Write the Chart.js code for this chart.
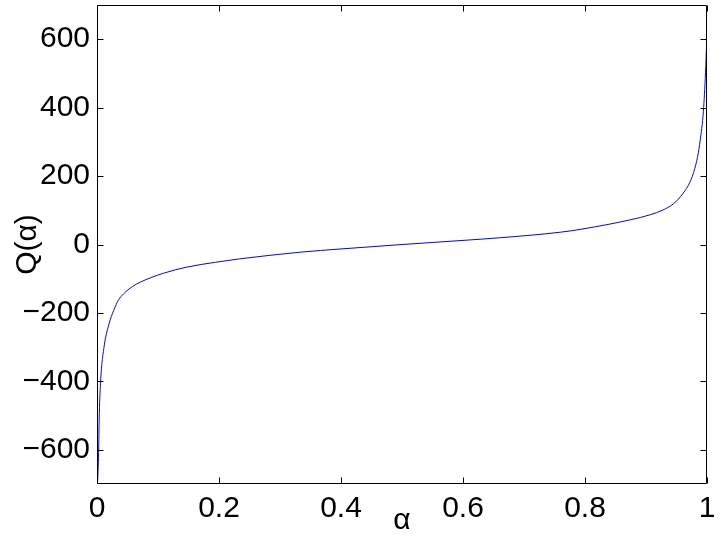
<!DOCTYPE html>
<html>
<head>
<meta charset="utf-8">
<script src="https://cdn.jsdelivr.net/npm/chart.js@4"></script>
<style>
  html, body { margin: 0; padding: 0; background: #fff; }
  #wrap { width: 721px; height: 545px; }
</style>
</head>
<body>
<div id="wrap"><canvas id="grafik" width="721" height="545"></canvas></div>
<script>
// nilai
const alpha = [0, 0.0011, 0.0028, 0.0038, 0.006, 0.0115, 0.0197, 0.0273, 0.035, 0.0437,
  0.058, 0.071, 0.109, 0.1475, 0.194, 0.234, 0.333, 0.4, 0.5, 0.6, 0.66, 0.76, 0.795,
  0.874, 0.907, 0.928, 0.945, 0.961, 0.972, 0.98, 0.9858, 0.99, 0.9928, 0.9945, 0.998, 1];
const qValues = [-700, -689, -592, -494, -397, -300, -232, -193, -163, -144,
  -123, -110, -84, -66, -52, -42, -22.5, -13, 0, 12, 19.6, 36, 45,
  72, 87, 101, 119, 150, 182, 222, 268, 320, 362, 400, 520, 625];
const xTicks = [0, 0.2, 0.4, 0.6, 0.8, 1];
const yTicks = [-600, -400, -200, 0, 200, 400, 600];

const FONT = "'Liberation Sans', Arial, Helvetica, sans-serif";

function nolPadding(s) {
  s.paddingTop = 0;
  s.paddingBottom = 0;
  s.paddingLeft = 0;
  s.paddingRight = 0;
}

// kotak dan tick ke dalam ala matlab
const kotakPlugin = {
  id: "kotak",
  afterDatasetsDraw(chart) {
    const { ctx, chartArea: a, scales } = chart;
    const L = Math.round(a.left) + 0.5, R = Math.round(a.right) - 0.5;
    const T = Math.round(a.top) + 0.5, B = Math.round(a.bottom) - 0.5;
    const len = 6;
    ctx.save();
    ctx.strokeStyle = "#000";
    ctx.lineWidth = 1;
    ctx.beginPath();
    ctx.rect(L, T, R - L, B - T);
    xTicks.forEach((v) => {
      const px = Math.round(scales.x.getPixelForValue(v)) + 0.5;
      ctx.moveTo(px, B); ctx.lineTo(px, B - len);
      ctx.moveTo(px, T); ctx.lineTo(px, T + len);
    });
    yTicks.forEach((v) => {
      const py = Math.round(scales.y.getPixelForValue(v)) + 0.5;
      ctx.moveTo(L, py); ctx.lineTo(L + len, py);
      ctx.moveTo(R, py); ctx.lineTo(R - len, py);
    });
    ctx.stroke();
    ctx.restore();
  },
};

const ctx = document.getElementById("grafik").getContext("2d");
new Chart(ctx, {
  type: "line",
  data: {
    datasets: [
      {
        data: alpha.map((a, i) => ({ x: a, y: qValues[i] })),
        borderColor: "rgb(0, 0, 255)",
        borderWidth: 1,
        pointRadius: 0,
        fill: false,
        cubicInterpolationMode: "monotone",
      },
    ],
  },
  options: {
    responsive: false,
    animation: false,
    layout: { padding: { top: 5, right: 14, left: 0, bottom: 0 } },
    plugins: { legend: { display: false }, tooltip: { enabled: false } },
    scales: {
      x: {
        type: "linear",
        min: 0,
        max: 1,
        afterFit: (s) => { s.height = 61; nolPadding(s); },
        afterBuildTicks: (s) => { s.ticks = xTicks.map((v) => ({ value: v })); },
        grid: { display: false, drawTicks: false },
        border: { display: false },
        ticks: {
          padding: 7,
          color: "#000",
          font: { family: FONT, size: 30 },
          maxRotation: 0,
          callback: (v) => String(Math.round(v * 10) / 10),
        },
        title: {
          display: true,
          text: "α",
          color: "#000",
          font: { family: FONT, size: 30 },
          padding: { top: 0, bottom: 6 },
        },
      },
      y: {
        type: "linear",
        min: -700,
        max: 700,
        afterFit: (s) => { s.width = 97; nolPadding(s); },
        afterBuildTicks: (s) => { s.ticks = yTicks.map((v) => ({ value: v })); },
        grid: { display: false, drawTicks: false },
        border: { display: false },
        ticks: {
          padding: 7,
          color: "#000",
          font: { family: FONT, size: 30 },
          callback: (v) => String(v).replace("-", "\u2212"),
        },
        title: {
          display: true,
          text: "Q(α)",
          color: "#000",
          font: { family: FONT, size: 30 },
          padding: { top: 10, bottom: 0 },
        },
      },
    },
  },
  plugins: [kotakPlugin],
});
</script>
</body>
</html>
